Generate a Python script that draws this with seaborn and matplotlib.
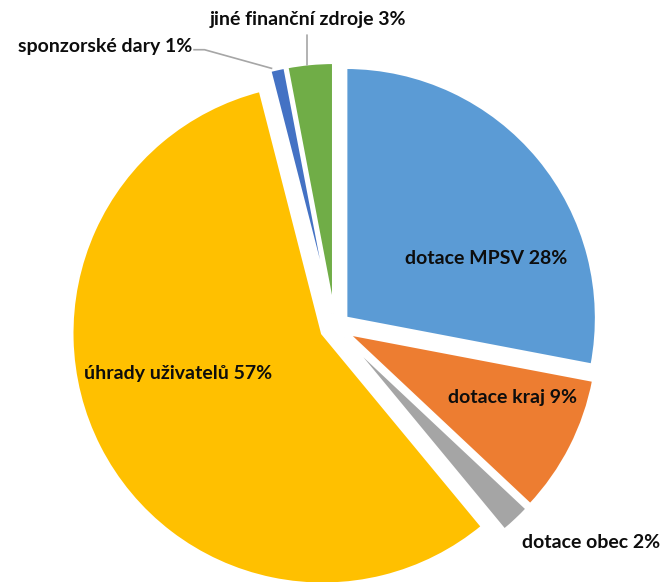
import matplotlib
matplotlib.use("Agg")
import matplotlib.pyplot as plt
import seaborn as sns

categories = ["dotace MPSV", "dotace kraj", "dotace obec", "úhrady uživatelů", "sponzorské dary", "jiné finanční zdroje"]
values = [28, 9, 2, 57, 1, 3]
colors = ["#5B9BD5", "#ED7D31", "#A5A5A5", "#FFC000", "#4472C4", "#70AD47"]

sns.set_theme(style="white")
plt.rcParams['font.family'] = ['Lato', 'DejaVu Sans']

fig = plt.figure(figsize=(6.65, 5.82), dpi=100)
ax = fig.add_axes([0, 0, 1, 1])
explode = [0.055] * len(values)
wedges, _ = ax.pie(values, colors=colors, startangle=90, counterclock=False,
                   explode=explode, radius=1.0,
                   wedgeprops=dict(edgecolor="white", linewidth=2.5))
ax.set_xlim(-1.335, 1.315)
ax.set_ylim(-1.016, 1.303)
ax.set_aspect('equal')
ax.axis('off')

labels = [f"{c} {v}%" for c, v in zip(categories, values)]
fs = 14
kw = dict(fontsize=fs, fontweight='bold', color='#0d0d0d', va='center')
ax.text(0.602, 0.275, labels[0], ha='center', **kw)
ax.text(0.709, -0.279, labels[1], ha='center', **kw)
ax.text(1.02, -0.857, labels[2], ha='center', **kw)
ax.text(-0.625, -0.187, labels[3], ha='center', **kw)
ax.text(-0.57, 1.116, labels[4], ha='right', **kw)
ax.text(-0.108, 1.226, labels[5], ha='center', **kw)

# leader lines
lc = "#A6A6A6"
ax.plot([-0.565, -0.52, -0.25], [1.105, 1.105, 1.03], color=lc, lw=1.2, solid_capstyle='butt')
ax.plot([-0.11, -0.11], [1.165, 1.045], color=lc, lw=1.2)

fig.savefig("out.png", dpi=100)
